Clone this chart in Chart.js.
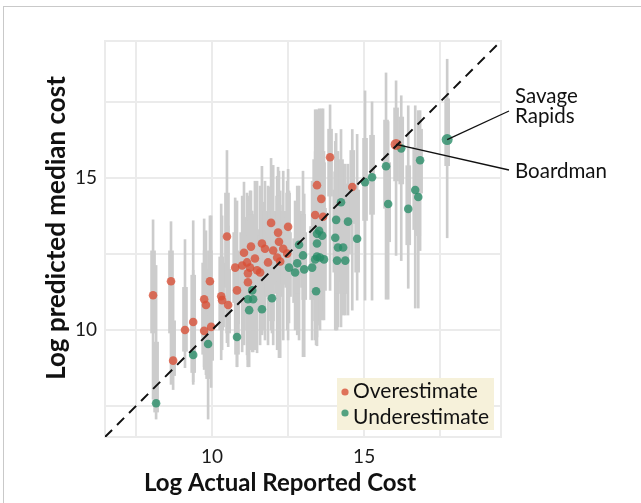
<!DOCTYPE html>
<html>
<head>
<meta charset="utf-8">
<script src="https://cdn.jsdelivr.net/npm/chart.js@4.4.1/dist/chart.umd.min.js"></script>
<style>
  html, body { margin: 0; padding: 0; background: #fff; }
  #wrap { position: relative; width: 641px; height: 503px; overflow: hidden; }
  #frame { position: absolute; left: 3px; top: 6px; width: 700px; height: 600px; border: 1px solid #c9c9c9; }
  #costChart { position: absolute; left: 0; top: 0; }
</style>
</head>
<body>
<div id="wrap">
  <div id="frame"></div>
  <canvas id="costChart" width="641" height="503"></canvas>
</div>
<script>
// log actual reported cost (x) and log predicted median cost (y) per dam
const actualCost = [
  8.06, 8.16, 8.65, 8.72, 9.11, 9.38, 9.38, 9.74, 9.80, 9.74,
  9.97, 9.87, 9.93, 10.49, 10.30, 10.33, 10.53, 10.76, 10.82, 10.82,
  10.99, 11.05, 11.15, 11.18, 11.18, 11.25, 11.28, 11.41, 11.48, 11.58,
  11.64, 11.74, 11.84, 11.94, 12.01, 12.14, 12.17, 12.20, 12.24, 12.34,
  12.47, 12.50, 11.18, 11.22, 11.32, 11.35, 11.64, 11.97, 12.53, 12.73,
  12.80, 12.86, 12.99, 13.03, 13.29, 13.42, 13.45, 13.45, 13.52, 13.62,
  13.45, 13.39, 13.55, 13.68, 13.39, 13.65, 13.45, 13.59, 13.88, 14.08,
  14.24, 14.47, 14.77, 14.05, 14.14, 14.31, 14.11, 14.38, 14.61, 15.03,
  15.26, 15.72, 16.05, 16.22, 15.79, 16.45, 16.68, 16.78, 16.84, 17.73
];
const predictedCost = [
  11.14, 7.59, 11.60, 8.99, 10.00, 10.26, 9.18, 11.01, 10.82, 9.97,
  10.10, 9.54, 11.60, 13.07, 11.11, 10.98, 10.82, 12.05, 11.30, 9.77,
  12.12, 12.54, 12.22, 11.86, 11.57, 12.05, 12.74, 12.35, 11.96, 11.89,
  12.84, 12.67, 12.22, 13.52, 12.61, 12.38, 13.20, 12.90, 12.25, 12.67,
  12.51, 13.39, 11.01, 10.65, 11.30, 11.01, 10.68, 11.04, 12.05, 11.89,
  12.19, 12.80, 12.45, 11.99, 12.05, 11.27, 12.84, 13.16, 13.26, 13.10,
  12.41, 12.32, 12.38, 12.32, 13.78, 13.72, 14.76, 14.31, 15.68, 13.62,
  14.20, 13.56, 13.00, 13.03, 12.71, 12.71, 12.28, 12.28, 14.70, 14.86,
  15.02, 15.38, 16.10, 15.97, 14.14, 13.98, 14.60, 14.37, 15.58, 16.26
];
// 95% and 50% prediction intervals
const lower95 = [
  7.72, 7.07, 8.21, 8.04, 8.76, 8.30, 8.21, 8.79, 8.53, 8.70,
  8.11, 7.07, 9.02, 9.58, 9.02, 9.35, 9.45, 9.67, 8.79, 8.79,
  9.28, 9.51, 9.18, 8.79, 9.02, 9.35, 9.35, 9.35, 9.25, 9.51,
  9.84, 9.67, 9.51, 10.00, 9.51, 9.35, 9.35, 9.09, 9.09, 9.67,
  10.00, 9.67, 8.79, 8.79, 9.28, 9.28, 9.90, 9.90, 10.23, 10.00,
  9.84, 9.67, 9.12, 9.12, 9.67, 9.51, 9.77, 10.00, 10.16, 10.33,
  9.48, 9.67, 10.00, 10.33, 10.33, 10.82, 10.98, 10.65, 11.30, 10.00,
  10.10, 10.49, 10.98, 10.00, 10.10, 10.49, 10.00, 10.49, 10.65, 10.98,
  10.98, 11.01, 12.45, 12.28, 11.01, 11.37, 10.72, 10.72, 12.61, 13.03
];
const upper95 = [
  13.62, 12.12, 13.56, 11.63, 12.97, 13.59, 11.96, 13.65, 13.26, 12.61,
  13.75, 11.96, 13.75, 15.90, 14.14, 13.75, 13.42, 14.34, 14.24, 12.28,
  14.40, 14.86, 14.50, 14.40, 14.24, 14.57, 14.57, 14.89, 14.89, 14.73,
  15.38, 14.89, 14.73, 15.64, 15.41, 15.05, 15.35, 15.22, 14.57, 15.22,
  14.89, 15.28, 13.59, 13.26, 13.91, 13.75, 13.26, 14.24, 14.57, 14.24,
  14.73, 14.73, 15.22, 14.47, 14.89, 13.91, 17.24, 17.18, 17.27, 16.85,
  16.20, 15.87, 16.52, 15.87, 17.24, 17.27, 16.85, 17.27, 17.40, 16.46,
  16.59, 15.45, 16.43, 16.20, 15.87, 15.45, 15.54, 15.45, 16.59, 17.86,
  17.50, 18.45, 18.19, 17.70, 16.85, 17.37, 17.37, 17.21, 17.21, 18.90
];
const lower50 = [
  9.9, 7.3, 9.9, 8.5, 9.3, 9.3, 8.6, 9.8, 9.6, 9.2,
  9.0, 8.4, 10.5, 11.4, 10.0, 10.1, 9.9, 10.9, 10.2, 9.2,
  11.0, 11.3, 11.0, 10.7, 10.5, 11.0, 11.5, 11.2, 10.8, 10.8,
  11.7, 11.5, 11.1, 12.2, 11.5, 11.2, 12.0, 11.6, 11.1, 11.5,
  11.4, 12.2, 10.0, 9.7, 10.3, 10.0, 10.0, 10.3, 11.1, 10.9,
  11.2, 11.8, 11.4, 11.0, 11.0, 10.3, 11.6, 11.9, 12.0, 11.9,
  11.3, 11.2, 11.3, 11.3, 12.6, 12.5, 13.5, 13.0, 14.4, 12.4,
  12.9, 12.5, 11.9, 11.9, 11.6, 11.6, 11.2, 11.2, 13.5, 13.6,
  13.8, 14.0, 14.9, 14.8, 12.9, 12.8, 13.3, 13.1, 14.5, 15.4
];
const upper50 = [
  12.6, 9.6, 12.6, 10.3, 11.4, 11.8, 10.4, 12.2, 12.0, 11.1,
  11.6, 10.6, 12.6, 14.5, 12.4, 12.2, 12.0, 13.2, 12.6, 11.0,
  13.2, 13.7, 13.4, 13.1, 12.8, 13.3, 13.8, 13.5, 13.3, 13.1,
  14.2, 13.9, 13.4, 14.7, 13.9, 13.6, 14.4, 14.1, 13.4, 13.9,
  13.7, 14.5, 12.1, 11.8, 12.5, 12.2, 11.9, 12.4, 13.2, 13.0,
  13.4, 13.9, 13.8, 13.2, 13.4, 12.5, 14.8, 15.0, 15.1, 14.9,
  14.2, 14.0, 14.3, 14.0, 15.6, 15.5, 16.0, 15.8, 16.6, 15.2,
  15.6, 14.8, 14.6, 14.6, 14.2, 14.0, 13.7, 13.6, 15.9, 16.3,
  16.4, 16.9, 17.3, 17.0, 15.5, 15.4, 16.0, 15.8, 16.6, 17.6
];
// O = overestimate, U = underestimate
const estimateGroup = [
  'O', 'U', 'O', 'O', 'O', 'O', 'U', 'O', 'O', 'O',
  'O', 'U', 'O', 'O', 'O', 'O', 'O', 'O', 'O', 'U',
  'O', 'O', 'O', 'O', 'O', 'O', 'O', 'O', 'O', 'O',
  'O', 'O', 'O', 'O', 'O', 'O', 'O', 'O', 'O', 'O',
  'O', 'O', 'U', 'U', 'U', 'U', 'U', 'U', 'U', 'U',
  'U', 'U', 'U', 'U', 'U', 'U', 'U', 'U', 'U', 'U',
  'U', 'U', 'U', 'U', 'O', 'O', 'O', 'O', 'O', 'U',
  'U', 'U', 'U', 'U', 'U', 'U', 'U', 'U', 'O', 'U',
  'U', 'U', 'O', 'U', 'U', 'U', 'U', 'U', 'U', 'U'
];
const seriesNames = ['Overestimate', 'Underestimate'];
const damNames = ['Savage Rapids', 'Boardman'];
const damIndex = [89, 82];
const axisRange = [6.48, 19.5];
const gridTicks = [7.5, 10, 12.5, 15, 17.5];
const labelledTicks = [10, 15];

const ORANGE = 'rgba(216, 78, 52, 0.78)';
const GREEN = 'rgba(38, 140, 102, 0.78)';
const BAR_GREY = '#cccccc';
const FONT = 'Lato, "Open Sans", sans-serif';

function intervalData(lo, hi) {
    return actualCost.map((x, i) => ({ x: x, y: [lo[i], hi[i]] }));
}
function groupPoints(code) {
    const pts = [];
    actualCost.forEach((x, i) => {
        if (estimateGroup[i] === code) pts.push({ x: x, y: predictedCost[i], idx: i });
    });
    return pts;
}
function pointSize(ctx) {
    const p = ctx.raw;
    return p && damIndex.includes(p.idx) ? 5.5 : 4.3;
}

const decorations = {
    id: 'decorations',
    beforeDatasetsDraw(chart) {
        const { ctx, chartArea: a } = chart;
        ctx.save();
        ctx.strokeStyle = '#ebebeb';
        ctx.lineWidth = 2;
        ctx.strokeRect(a.left, a.top, a.right - a.left, a.bottom - a.top);
        ctx.restore();
    },
    afterDatasetsDraw(chart) {
        const { ctx } = chart;
        const xs = chart.scales.x, ys = chart.scales.y;
        ctx.save();

        // leader lines + dam labels
        const labelX = 515;
        const ends = [[509, 111], [509, 170]];
        ctx.strokeStyle = '#111';
        ctx.lineWidth = 1.3;
        damIndex.forEach((idx, k) => {
            ctx.beginPath();
            ctx.moveTo(xs.getPixelForValue(actualCost[idx]), ys.getPixelForValue(predictedCost[idx]));
            ctx.lineTo(ends[k][0], ends[k][1]);
            ctx.stroke();
        });
        ctx.fillStyle = '#111';
        ctx.font = '20.5px ' + FONT;
        ctx.textAlign = 'left';
        ctx.textBaseline = 'alphabetic';
        const words = damNames[0].split(' ');
        ctx.fillText(words[0], labelX, 103);
        ctx.fillText(words[1], labelX, 123);
        ctx.fillText(damNames[1], labelX, 178);

        // legend box
        ctx.fillStyle = '#f6f1da';
        ctx.fillRect(337, 378, 157, 52);
        const colors = [ORANGE, GREEN];
        const rows = [[392, 398], [413, 423.5]];
        seriesNames.forEach((name, k) => {
            ctx.fillStyle = colors[k];
            ctx.beginPath();
            ctx.arc(345, rows[k][0], 3.6, 0, Math.PI * 2);
            ctx.fill();
            ctx.fillStyle = '#111';
            ctx.font = '21px ' + FONT;
            ctx.fillText(name, 353, rows[k][1]);
        });
        ctx.restore();
    },
    afterDraw(chart) {
        const { ctx } = chart;
        ctx.save();
        ctx.fillStyle = '#111';
        ctx.textAlign = 'center';
        ctx.textBaseline = 'alphabetic';
        ctx.font = 'bold 24px ' + FONT;
        ctx.fillText('Log Actual Reported Cost', 280, 491);
        ctx.font = 'bold 26px ' + FONT;
        ctx.translate(65, 228);
        ctx.rotate(-Math.PI / 2);
        ctx.fillText('Log predicted median cost', 0, 0);
        ctx.restore();
    }
};

const axisOptions = (afterFit) => ({
    type: 'linear',
    min: axisRange[0],
    max: axisRange[1],
    offset: false,
    afterBuildTicks: (scale) => { scale.ticks = gridTicks.map(v => ({ value: v })); },
    afterFit: afterFit,
    grid: { color: '#ebebeb', lineWidth: 2, drawTicks: false, offset: false },
    border: { display: false },
    ticks: {
        padding: 8,
        color: '#1a1a1a',
        font: { size: 19, family: FONT },
        callback: (v) => labelledTicks.includes(v) ? String(v) : ''
    }
});

new Chart(document.getElementById('costChart'), {
    type: 'scatter',
    data: {
        datasets: [
            {
                type: 'line',
                data: [{ x: axisRange[0], y: axisRange[0] }, { x: axisRange[1], y: axisRange[1] }],
                borderColor: '#111',
                borderWidth: 2,
                borderDash: [10, 7],
                pointRadius: 0,
                fill: false,
                order: 0
            },
            {
                label: seriesNames[0],
                data: groupPoints('O'),
                backgroundColor: ORANGE,
                borderWidth: 0,
                pointRadius: pointSize,
                order: 1
            },
            {
                label: seriesNames[1],
                data: groupPoints('U'),
                backgroundColor: GREEN,
                borderWidth: 0,
                pointRadius: pointSize,
                order: 1
            },
            {
                type: 'bar',
                data: intervalData(lower50, upper50),
                backgroundColor: BAR_GREY,
                barThickness: 5,
                grouped: false,
                borderSkipped: false,
                order: 2
            },
            {
                type: 'bar',
                data: intervalData(lower95, upper95),
                backgroundColor: BAR_GREY,
                barThickness: 2,
                grouped: false,
                borderSkipped: false,
                order: 3
            }
        ]
    },
    options: {
        responsive: false,
        animation: false,
        devicePixelRatio: 1,
        layout: { padding: { top: 41, right: 140, left: 0, bottom: 0 } },
        plugins: { legend: { display: false }, tooltip: { enabled: false } },
        scales: {
            x: axisOptions((s) => { s.height = 66; }),
            y: axisOptions((s) => { s.width = 105; })
        }
    },
    plugins: [decorations]
});
</script>
</body>
</html>
